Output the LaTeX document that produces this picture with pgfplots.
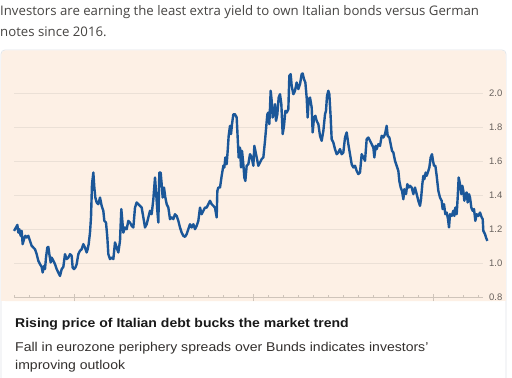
\documentclass[border=0pt]{standalone}
\usepackage{fontspec}
\setmainfont{Liberation Sans}
\newfontfamily\opensans{Open Sans}
\newfontfamily\widesans[FakeStretch=1.1]{Liberation Sans}
\usepackage{pgfplots}
\pgfplotsset{compat=1.18}
\definecolor{pinkbg}{HTML}{FDF0E5}
\definecolor{gridc}{HTML}{EBE0D6}
\definecolor{tickc}{HTML}{CFC4BA}
\definecolor{labc}{HTML}{66605C}
\definecolor{linec}{HTML}{1B5799}
\definecolor{cardb}{HTML}{E2E5EA}
\definecolor{txt}{HTML}{33302E}
\begin{document}
\begin{tikzpicture}[x=1bp,y=1bp]
\useasboundingbox (0,0) rectangle (512,-377);
\fill[white] (0,0) rectangle (512,-377);
\begin{scope}
\clip (0,0) rectangle (512,-377);
\draw[cardb, fill=white, rounded corners=4bp, line width=0.8bp] (1,-50) rectangle (506,-400);
\fill[pinkbg, rounded corners=4bp] (1.4,-50.4) -- (505.6,-50.4) -- (505.6,-301) -- (1.4,-301) -- cycle;
\fill[pinkbg] (1.4,-60) rectangle (505.6,-301);
\end{scope}
\node[anchor=base west, inner sep=0pt, font=\opensans\fontsize{13.25}{16}\selectfont, text=txt!90] at (0,-15.5) {Investors are earning the least extra yield to own Italian bonds versus German};
\node[anchor=base west, inner sep=0pt, font=\opensans\fontsize{13.25}{16}\selectfont, text=txt!90] at (0,-36.5) {notes since 2016.};
\node[anchor=base west, inner sep=0pt, font=\widesans\bfseries\fontsize{12.8}{15}\selectfont, text=black!90] at (15,-327.8) {Rising price of Italian debt bucks the market trend};
\node[anchor=base west, inner sep=0pt, font=\widesans\fontsize{12.8}{15}\selectfont, text=txt] at (15,-351.5) {Fall in eurozone periphery spreads over Bunds indicates investors’};
\node[anchor=base west, inner sep=0pt, font=\widesans\fontsize{12.8}{15}\selectfont, text=txt] at (15,-369) {improving outlook};
\begin{axis}[
  at={(14bp,-297.5bp)}, anchor=south west,
  scale only axis, width=469bp, height=238bp,
  xmin=42, xmax=1449, ymin=0.8, ymax=2.2,
  clip=false,
  axis x line*=bottom, axis y line*=right,
  x axis line style={draw=tickc, line width=0.6bp, -},
  y axis line style={draw=none},
  ytick={0.8,1.0,1.2,1.4,1.6,1.8,2.0},
  ymajorgrids, grid style={draw=gridc, line width=0.8bp},
  y tick style={draw=none},
  yticklabel style={anchor=west, inner sep=0pt, xshift=6bp, text=labc, font=\fontsize{9.5}{11}\selectfont},
  /pgf/number format/assume math mode=true,
  yticklabel={\pgfmathprintnumber[fixed,fixed zerofill,precision=1]{\tick}},
  xtick={42,86.9,...,1440},
  xticklabels={},
  x tick style={draw=tickc, line width=0.6bp},
  tick align=inside, major tick length=3bp,
  extra x ticks={221.6,760.4,1299.2},
  extra x tick labels={},
  extra x tick style={tick align=center, major tick length=7bp, x tick style={draw=tickc, line width=0.6bp}},
]
\addplot[linec, line width=2.4bp, line join=round] coordinates {
(42,1.192)(48,1.212)(52,1.227)(55,1.182)(58,1.202)(62,1.163)(65,1.192)(68,1.114)(72,1.143)(76,1.163)(80,1.153)(85,1.163)(90,1.133)(95,1.104)(100,1.094)(105,1.084)(110,1.055)(115,1.016)(120,0.996)(125,0.980)(128,0.947)(132,0.986)(135,0.967)(138,1.035)(142,1.094)(145,1.098)(148,1.055)(152,1.006)(155,1.035)(160,1.016)(165,0.996)(170,0.967)(175,0.947)(180,0.927)(185,0.967)(190,0.980)(195,1.055)(200,1.026)(205,1.035)(210,1.055)(215,1.045)(218,0.976)(222,0.967)(226,0.976)(230,0.996)(235,1.055)(240,1.075)(245,1.084)(250,1.114)(255,1.094)(260,1.065)(263,1.084)(266,1.114)(270,1.182)(273,1.271)(276,1.467)(280,1.535)(283,1.447)(286,1.388)(290,1.359)(295,1.349)(300,1.388)(305,1.339)(310,1.310)(313,1.251)(318,1.241)(322,1.153)(325,1.055)(330,1.026)(335,1.035)(340,1.026)(345,1.124)(350,1.094)(355,1.065)(360,1.133)(362,1.231)(364,1.320)(367,1.251)(370,1.182)(375,1.212)(380,1.202)(385,1.251)(390,1.241)(395,1.222)(400,1.212)(405,1.329)(410,1.359)(415,1.349)(420,1.339)(425,1.329)(430,1.271)(435,1.212)(440,1.231)(445,1.271)(450,1.310)(455,1.290)(460,1.378)(465,1.506)(468,1.427)(472,1.310)(475,1.241)(478,1.535)(482,1.535)(485,1.467)(488,1.388)(492,1.447)(496,1.388)(500,1.349)(505,1.329)(510,1.261)(515,1.271)(520,1.261)(525,1.290)(530,1.280)(535,1.251)(540,1.212)(545,1.182)(550,1.163)(555,1.157)(560,1.173)(565,1.202)(570,1.231)(575,1.212)(580,1.231)(585,1.202)(590,1.222)(595,1.251)(600,1.329)(605,1.290)(610,1.310)(615,1.329)(620,1.329)(625,1.349)(630,1.369)(635,1.349)(640,1.339)(645,1.329)(650,1.271)(652,1.427)(655,1.447)(660,1.447)(665,1.516)(670,1.575)(673,1.565)(676,1.624)(680,1.584)(683,1.663)(686,1.751)(690,1.810)(693,1.761)(696,1.820)(700,1.878)(705,1.878)(710,1.859)(713,1.741)(716,1.624)(720,1.682)(723,1.565)(726,1.663)(730,1.584)(733,1.506)(736,1.486)(740,1.575)(745,1.584)
(750,1.643)(755,1.624)(760,1.575)(763,1.692)(766,1.663)(770,1.624)(775,1.575)(780,1.594)(785,1.614)(790,1.624)(795,1.722)(798,1.790)(802,1.878)(805,1.888)(808,1.820)(812,2.016)(815,1.957)(818,1.859)(822,1.888)(825,1.937)(828,1.839)(832,1.878)(836,1.976)(840,1.996)(844,1.937)(848,1.761)(852,1.810)(856,1.898)(860,1.888)(865,1.908)(868,2.104)(872,2.114)(875,2.045)(880,1.996)(885,2.016)(890,2.065)(895,2.026)(900,2.055)(905,2.114)(908,2.118)(912,2.084)(916,2.065)(920,1.976)(923,1.859)(926,1.967)(930,1.976)(935,1.918)(938,1.771)(942,1.859)(946,1.869)(950,1.839)(955,1.820)(960,1.751)(965,1.722)(970,1.780)(975,1.878)(978,1.898)(981,1.986)(985,2.016)(988,1.996)(992,1.859)(995,1.731)(1000,1.712)(1005,1.673)(1010,1.643)(1015,1.653)(1020,1.673)(1025,1.643)(1030,1.653)(1035,1.741)(1040,1.771)(1045,1.702)(1050,1.643)(1055,1.584)(1060,1.565)(1065,1.575)(1070,1.545)(1075,1.526)(1080,1.535)(1085,1.643)(1090,1.624)(1095,1.604)(1100,1.731)(1105,1.741)(1110,1.722)(1115,1.702)(1120,1.682)(1123,1.624)(1127,1.692)(1130,1.673)(1135,1.702)(1140,1.692)(1145,1.751)(1150,1.741)(1155,1.761)(1160,1.810)(1163,1.751)(1168,1.741)(1172,1.702)(1176,1.663)(1180,1.653)(1185,1.604)(1190,1.575)(1195,1.545)(1198,1.486)(1202,1.447)(1206,1.427)(1210,1.378)(1213,1.437)(1218,1.408)(1222,1.467)(1226,1.447)(1230,1.457)(1235,1.447)(1240,1.408)(1245,1.447)(1250,1.408)(1255,1.369)(1260,1.339)(1263,1.378)(1267,1.467)(1270,1.516)(1273,1.496)(1277,1.535)(1280,1.516)(1285,1.545)(1288,1.565)(1292,1.624)(1296,1.643)(1299,1.604)(1302,1.575)(1306,1.575)(1310,1.516)(1315,1.427)(1320,1.388)(1325,1.369)(1328,1.320)(1332,1.349)(1336,1.290)(1340,1.300)(1344,1.261)(1347,1.212)(1350,1.290)(1355,1.280)(1360,1.310)(1363,1.280)(1366,1.329)(1370,1.290)(1373,1.388)(1376,1.506)(1380,1.467)(1384,1.408)(1387,1.457)(1390,1.427)(1393,1.369)(1396,1.408)(1400,1.418)(1403,1.359)(1407,1.408)(1410,1.388)(1414,1.329)(1418,1.310)(1422,1.320)(1426,1.251)(1430,1.290)(1435,1.280)(1440,1.300)(1445,1.271)(1448,1.261)(1450,1.192)(1455,1.173)(1458,1.153)(1462,1.133)
};
\end{axis}
\end{tikzpicture}
\end{document}
